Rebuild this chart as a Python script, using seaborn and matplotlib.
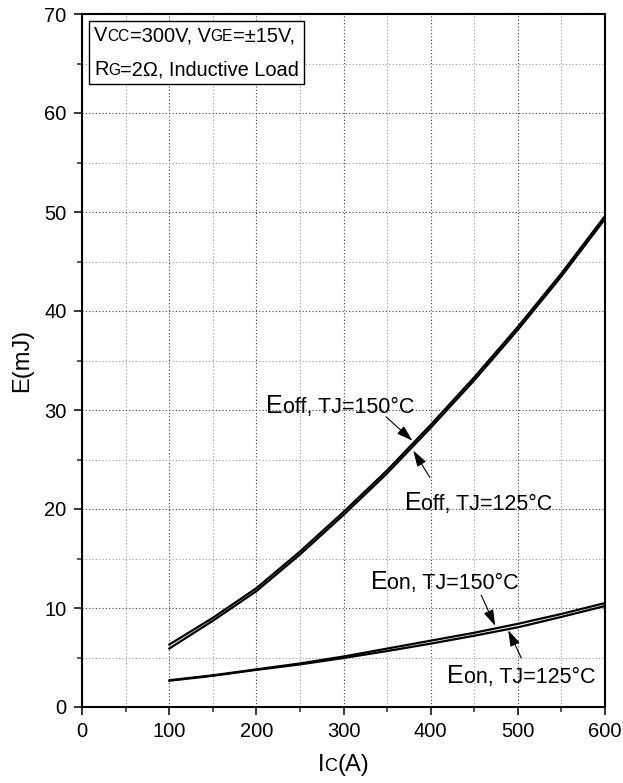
import numpy as np
import pandas as pd
import matplotlib
matplotlib.use("Agg")
import matplotlib.pyplot as plt
import seaborn as sns
from matplotlib.offsetbox import TextArea, HPacker, VPacker, AnnotationBbox
from matplotlib.ticker import MultipleLocator

# Switching energy vs collector current
ic = [100, 150, 200, 250, 300, 350, 400, 450, 500, 550, 600]
eoff_150 = [6.3, 9.0, 12.0, 15.7, 19.7, 23.9, 28.5, 33.3, 38.4, 43.8, 49.6]
eoff_125 = [5.9, 8.7, 11.7, 15.4, 19.4, 23.6, 28.2, 33.0, 38.1, 43.5, 49.3]
eon_150 = [2.7, 3.2, 3.8, 4.4, 5.1, 5.9, 6.7, 7.5, 8.4, 9.4, 10.5]
eon_125 = [2.65, 3.15, 3.75, 4.3, 4.95, 5.65, 6.4, 7.2, 8.05, 9.1, 10.2]

x_ticks = [0, 100, 200, 300, 400, 500, 600]
y_ticks = [0, 10, 20, 30, 40, 50, 60, 70]

df = pd.DataFrame({
    "Ic": ic * 4,
    "E": eoff_150 + eoff_125 + eon_150 + eon_125,
    "curve": (["Eoff150"] * len(ic) + ["Eoff125"] * len(ic)
              + ["Eon150"] * len(ic) + ["Eon125"] * len(ic)),
})

sns.set_theme(style="white")
FONT = ["Liberation Sans", "DejaVu Sans"]
plt.rcParams["font.family"] = FONT

fig = plt.figure(figsize=(6.23, 7.83), dpi=100)
ax = fig.add_axes([82 / 623, 1 - 707 / 783, 523 / 623, 693 / 783])

for name in ["Eoff150", "Eoff125", "Eon150", "Eon125"]:
    sns.lineplot(data=df[df["curve"] == name], x="Ic", y="E", ax=ax,
                 color="black", lw=1.6, legend=False, zorder=4)

ax.set_xlim(0, 600)
ax.set_ylim(0, 70)
ax.set_xticks(x_ticks)
ax.set_yticks(y_ticks)
ax.xaxis.set_minor_locator(MultipleLocator(50))
ax.yaxis.set_minor_locator(MultipleLocator(5))

ax.grid(which="major", color="0.25", linestyle=(0, (1, 2)), lw=0.8)
ax.grid(which="minor", color="0.6", linestyle=(0, (1, 2)), lw=0.8)
ax.set_axisbelow(True)

for sp in ax.spines.values():
    sp.set_visible(True)
    sp.set_color("black")
    sp.set_linewidth(1.5)

ax.tick_params(which="major", direction="out", length=6, width=1.1,
               labelsize=14.5, colors="black", pad=5,
               bottom=True, left=True, top=False, right=False)
ax.tick_params(which="minor", direction="out", length=3.4, width=1.1,
               bottom=True, left=True, top=False, right=False)

ax.set_xlabel("")
ax.set_ylabel("E(mJ)", fontsize=17, color="black", labelpad=8)


def rich(parts):
    boxes = [TextArea(s, textprops=dict(fontsize=fs, color="black", family=FONT))
             for s, fs in parts]
    return HPacker(children=boxes, align="baseline", pad=0, sep=0)


def label(parts, xy, align=(0, 0), coords="data"):
    ab = AnnotationBbox(rich(parts), xy, xycoords=coords, box_alignment=align,
                        frameon=False, pad=0, zorder=6)
    ax.add_artist(ab)


def arrow(tail, head):
    ax.annotate("", xy=head, xytext=tail, xycoords="data",
                arrowprops=dict(arrowstyle="-|>,head_length=0.7,head_width=0.22",
                                color="black", lw=0.8, shrinkA=0, shrinkB=0,
                                mutation_scale=14), zorder=6)


BIG, SMALL = 18, 15.5
label([("E", BIG), ("off, TJ=150°C", SMALL)], (211, 29.15))
label([("E", BIG), ("off, TJ=125°C", SMALL)], (370, 19.35))
label([("E", BIG), ("on, TJ=150°C", SMALL)], (331, 11.45))
label([("E", BIG), ("on, TJ=125°C", SMALL)], (419, 1.9))

arrow((349, 29.3), (379, 26.9))
arrow((399, 23.2), (380, 25.9))
arrow((458, 11.3), (474, 8.2))
arrow((504, 4.95), (489, 7.75))

# Test condition box
line1 = rich([("V", 14.4), ("CC", 11.2), ("=300V, V", 14.4), ("GE", 11.2), ("=±15V,", 14.4)])
line2 = rich([("R", 14.4), ("G", 11.2), ("=2Ω, Inductive Load", 14.4)])
cond = VPacker(children=[line1, line2], align="left", pad=0, sep=11)
cab = AnnotationBbox(cond, (12 / 523, 1 - 12 / 693), xycoords="axes fraction",
                     box_alignment=(0, 1), frameon=True, pad=0.3, zorder=7,
                     bboxprops=dict(boxstyle="square,pad=0.3", lw=1.0,
                                    ec="black", fc="white"))
ax.add_artist(cab)

# x axis title with subscript-style small letter
xl = AnnotationBbox(rich([("I", 17), ("C", 13), ("(A)", 17)]), (0.5, -0.083),
                    xycoords="axes fraction", box_alignment=(0.5, 0.5),
                    frameon=False, pad=0, annotation_clip=False)
ax.add_artist(xl)

fig.savefig("out.png", dpi=100, facecolor="white")
